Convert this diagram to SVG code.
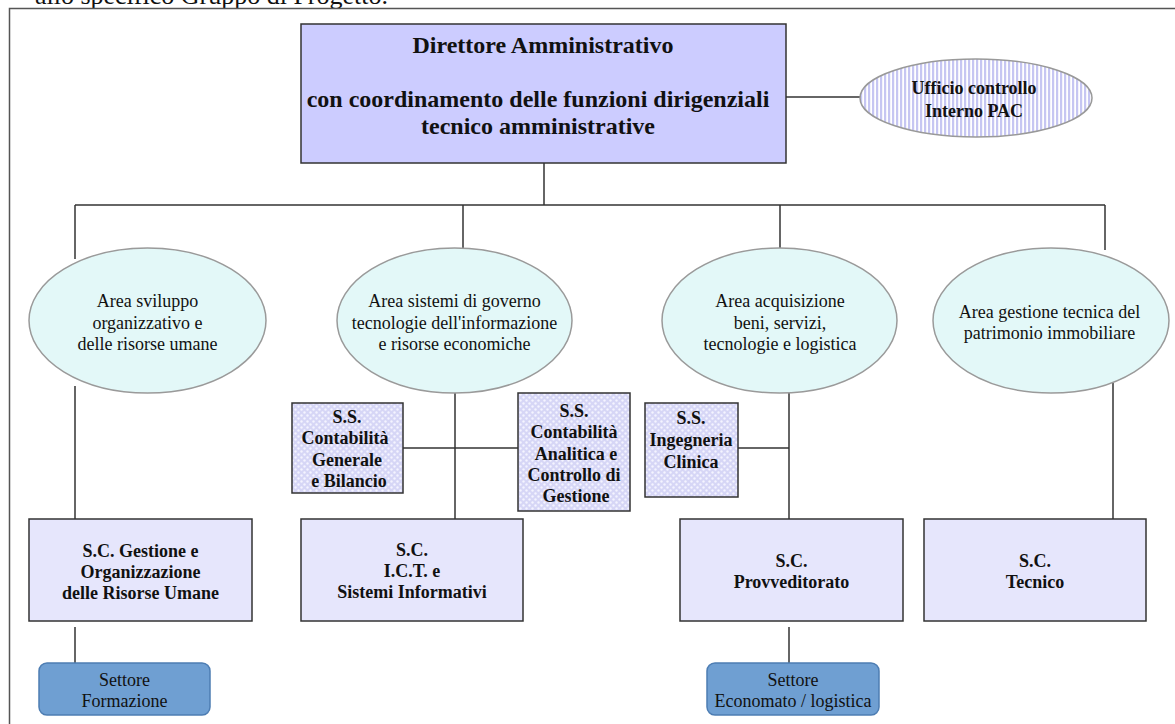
<svg xmlns="http://www.w3.org/2000/svg" width="1175" height="724" viewBox="0 0 1175 724">
<defs>
<style>
.t{font-family:"Liberation Serif","Times New Roman",serif;fill:#111;text-anchor:middle}
.b{font-weight:bold}
.f24{font-size:24px}
.f18{font-size:18px}
.ln{stroke:#333;stroke-width:1.5;fill:none}
.area{fill:#e3f8f8;stroke:#9a9a9a;stroke-width:1.5}
.sc{fill:#e6e6fc;stroke:#333;stroke-width:1.5}
.ss{fill:url(#chk);stroke:#333;stroke-width:1.5}
.set{fill:#6f9fd2;stroke:#4d7db3;stroke-width:1.5}
</style>
<pattern id="stripes" width="4" height="4" patternUnits="userSpaceOnUse">
<rect width="4" height="4" fill="#ffffff"/>
<rect width="2.2" height="4" fill="#c6c6f2"/>
</pattern>
<pattern id="chk" width="6" height="6" patternUnits="userSpaceOnUse">
<rect width="6" height="6" fill="#d6d6f6"/>
<circle cx="1.5" cy="1.5" r="1.2" fill="#f4f4ff"/>
<circle cx="4.5" cy="4.5" r="1.2" fill="#f4f4ff"/>
</pattern>
</defs>
<rect width="1175" height="724" fill="#ffffff"/>
<text class="t" x="388" y="4" style="font-size:26px;text-anchor:end">allo specifico Gruppo di Progetto.</text>
<path d="M9.5,724 V8.5 H1175" stroke="#555" stroke-width="1.5" fill="none"/>

<g id="connectors" class="ln">
<path d="M544,163 V205"/>
<path d="M75,205 H1105"/>
<path d="M75,205 V259"/>
<path d="M463,205 V249"/>
<path d="M780,205 V249"/>
<path d="M1105,205 V250"/>
<path d="M786,97 H861"/>
<path d="M75,386 V519"/>
<path d="M455,393 V519"/>
<path d="M403,448 H518"/>
<path d="M789,393 V519"/>
<path d="M738,448 H789"/>
<path d="M1113,383 V519"/>
<path d="M75,627 V663"/>
<path d="M789,627 V663"/>
</g>

<g id="direttore">
<rect x="301" y="24" width="485" height="139" fill="#ccccff" stroke="#333" stroke-width="1.5"/>
<text class="t b f24" x="543" y="53">Direttore Amministrativo</text>
<text class="t b f24" x="538" y="107">con coordinamento delle funzioni dirigenziali</text>
<text class="t b f24" x="538" y="134">tecnico amministrative</text>
</g>

<g id="ufficio">
<ellipse cx="976" cy="98" rx="116" ry="39" fill="url(#stripes)" stroke="#999" stroke-width="1.5"/>
<text class="t b f18" x="974" y="94">Ufficio controllo</text>
<text class="t b f18" x="974" y="117">Interno PAC</text>
</g>

<g id="area1">
<ellipse class="area" cx="147.5" cy="320.5" rx="118.5" ry="72.5"/>
<text class="t f18" x="147.5" y="307">Area sviluppo</text>
<text class="t f18" x="147.5" y="329">organizzativo e</text>
<text class="t f18" x="147.5" y="350">delle risorse umane</text>
</g>

<g id="area2">
<ellipse class="area" cx="454.5" cy="320.5" rx="117.5" ry="72.5"/>
<text class="t f18" x="454.5" y="307">Area sistemi di governo</text>
<text class="t f18" x="454.5" y="329">tecnologie dell'informazione</text>
<text class="t f18" x="454.5" y="350">e risorse economiche</text>
</g>

<g id="area3">
<ellipse class="area" cx="779.5" cy="320.5" rx="117.5" ry="72.5"/>
<text class="t f18" x="780" y="307">Area acquisizione</text>
<text class="t f18" x="780" y="329">beni, servizi,</text>
<text class="t f18" x="780" y="350">tecnologie e logistica</text>
</g>

<g id="area4">
<ellipse class="area" cx="1051" cy="320.5" rx="118" ry="72.5"/>
<text class="t f18" x="1049.5" y="318">Area gestione tecnica del</text>
<text class="t f18" x="1049.5" y="339">patrimonio immobiliare</text>
</g>

<g id="ss-contabilita-generale">
<rect class="ss" x="292" y="403" width="111" height="90"/>
<text class="t b f18" x="347" y="423">S.S.</text>
<text class="t b f18" x="345" y="444">Contabilità</text>
<text class="t b f18" x="347" y="466">Generale</text>
<text class="t b f18" x="349" y="487">e Bilancio</text>
</g>

<g id="ss-contabilita-analitica">
<rect class="ss" x="518" y="393" width="112" height="118"/>
<text class="t b f18" x="574" y="417">S.S.</text>
<text class="t b f18" x="574" y="438">Contabilità</text>
<text class="t b f18" x="576" y="460">Analitica e</text>
<text class="t b f18" x="574" y="481">Controllo di</text>
<text class="t b f18" x="576" y="502">Gestione</text>
</g>

<g id="ss-ingegneria">
<rect class="ss" x="645" y="403" width="93" height="94"/>
<text class="t b f18" x="691" y="424">S.S.</text>
<text class="t b f18" x="691" y="446">Ingegneria</text>
<text class="t b f18" x="691" y="468">Clinica</text>
</g>

<g id="sc-risorse-umane">
<rect class="sc" x="29" y="519" width="223" height="102"/>
<text class="t b f18" x="140.5" y="557">S.C. Gestione e</text>
<text class="t b f18" x="140.5" y="578">Organizzazione</text>
<text class="t b f18" x="140.5" y="599">delle Risorse Umane</text>
</g>

<g id="sc-ict">
<rect class="sc" x="301" y="519" width="222" height="102"/>
<text class="t b f18" x="412" y="556">S.C.</text>
<text class="t b f18" x="412" y="577">I.C.T. e</text>
<text class="t b f18" x="412" y="598">Sistemi Informativi</text>
</g>

<g id="sc-provveditorato">
<rect class="sc" x="680" y="519" width="223" height="102"/>
<text class="t b f18" x="791.5" y="567">S.C.</text>
<text class="t b f18" x="791.5" y="588">Provveditorato</text>
</g>

<g id="sc-tecnico">
<rect class="sc" x="924" y="519" width="222" height="102"/>
<text class="t b f18" x="1035" y="567">S.C.</text>
<text class="t b f18" x="1035" y="588">Tecnico</text>
</g>

<g id="settore-formazione">
<rect class="set" x="39" y="663" width="171" height="52" rx="8"/>
<text class="t f18" x="124.5" y="686">Settore</text>
<text class="t f18" x="124.5" y="707">Formazione</text>
</g>

<g id="settore-economato">
<rect class="set" x="707" y="663" width="172" height="52" rx="8"/>
<text class="t f18" x="793" y="686">Settore</text>
<text class="t f18" x="793" y="707">Economato / logistica</text>
</g>
</svg>
